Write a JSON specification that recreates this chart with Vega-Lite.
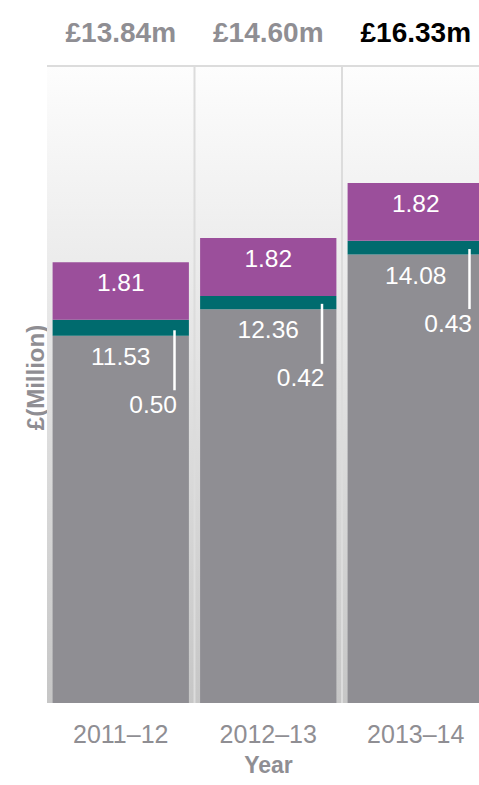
{
  "$schema": "https://vega.github.io/schema/vega-lite/v6.json",
  "width": 432,
  "height": 637,
  "autosize": {"type": "none"},
  "padding": {"left": 47, "top": 66, "right": 0, "bottom": 82},
  "background": "white",
  "config": {"view": {"stroke": null}, "font": "Liberation Sans"},
  "data": {
    "values": [
      {"year": "2011–12", "part": "base", "rank": 1, "value": 11.53},
      {"year": "2011–12", "part": "middle", "rank": 2, "value": 0.50},
      {"year": "2011–12", "part": "top", "rank": 3, "value": 1.81},
      {"year": "2012–13", "part": "base", "rank": 1, "value": 12.36},
      {"year": "2012–13", "part": "middle", "rank": 2, "value": 0.42},
      {"year": "2012–13", "part": "top", "rank": 3, "value": 1.82},
      {"year": "2013–14", "part": "base", "rank": 1, "value": 14.08},
      {"year": "2013–14", "part": "middle", "rank": 2, "value": 0.43},
      {"year": "2013–14", "part": "top", "rank": 3, "value": 1.82}
    ]
  },
  "transform": [
    {"stack": "value", "groupby": ["year"], "sort": [{"field": "rank", "order": "ascending"}], "as": ["v0", "v1"]}
  ],
  "layer": [
    {
      "transform": [{"filter": "datum.part === 'base'"}],
      "mark": {
        "type": "rect",
        "fill": {
          "gradient": "linear", "x1": 0, "y1": 0, "x2": 0, "y2": 1,
          "stops": [
            {"offset": 0, "color": "#fdfdfd"},
            {"offset": 0.3, "color": "#ececec"},
            {"offset": 1, "color": "#c6c6c6"}
          ]
        }
      },
      "encoding": {
        "x": {
          "field": "year",
          "type": "nominal",
          "scale": {"type": "band", "range": [0, 442.5], "paddingInner": 0, "paddingOuter": 0},
          "axis": {
            "title": "Year",
            "labelAngle": 0,
            "labelFontSize": 25,
            "labelColor": "#8f8e93",
            "labelPadding": 19,
            "ticks": false,
            "domain": false,
            "grid": false,
            "titleFontSize": 23,
            "titleFontWeight": "bold",
            "titleColor": "#8f8e93",
            "titleX": 221,
            "titleY": 69,
            "titleBaseline": "alphabetic"
          }
        },
        "y": {"datum": 20, "type": "quantitative", "scale": {"domain": [0, 20], "nice": false}},
        "y2": {"datum": 0}
      }
    },
    {
      "transform": [{"filter": "datum.part === 'base' && datum.year !== '2011–12'"}],
      "mark": {"type": "rule", "color": "#dcdcdc", "strokeWidth": 2},
      "encoding": {
        "x": {"field": "year", "type": "nominal", "bandPosition": 0},
        "y": {"datum": 0, "type": "quantitative", "scale": {"domain": [0, 20], "nice": false}},
        "y2": {"datum": 20}
      }
    },
    {
      "mark": {"type": "bar", "width": {"band": 0.924}},
      "encoding": {
        "x": {"field": "year", "type": "nominal"},
        "y": {
          "field": "v0",
          "type": "quantitative",
          "scale": {"domain": [0, 20], "nice": false},
          "axis": {
            "title": "£(Million)",
            "labels": false,
            "ticks": false,
            "domain": false,
            "grid": false,
            "titleFontSize": 24,
            "titleFontWeight": "bold",
            "titleColor": "#8f8e93",
            "titleX": -11,
            "titleY": 311,
            "titleAngle": 270,
            "titleAlign": "center",
            "titleBaseline": "middle"
          }
        },
        "y2": {"field": "v1"},
        "color": {
          "field": "part",
          "type": "nominal",
          "scale": {"domain": ["base", "middle", "top"], "range": ["#8f8e93", "#006b6e", "#9b4f9b"]},
          "legend": null
        }
      }
    },
    {
      "transform": [{"filter": "datum.part === 'base' || datum.part === 'top'"}],
      "mark": {"type": "text", "color": "white", "fontSize": 24.5, "baseline": "middle", "dy": 22},
      "encoding": {
        "x": {"field": "year", "type": "nominal"},
        "y": {"field": "v1", "type": "quantitative", "scale": {"domain": [0, 20], "nice": false}},
        "text": {"field": "value", "type": "quantitative", "format": ".2f"}
      }
    },
    {
      "transform": [{"filter": "datum.part === 'middle'"}],
      "mark": {"type": "rule", "color": "white", "strokeWidth": 2.5, "xOffset": -20, "yOffset": -5.5, "y2Offset": 54.5},
      "encoding": {
        "x": {"field": "year", "type": "nominal", "bandPosition": 1},
        "y": {"field": "v0", "type": "quantitative", "scale": {"domain": [0, 20], "nice": false}},
        "y2": {"field": "v0"}
      }
    },
    {
      "transform": [{"filter": "datum.part === 'middle'"}],
      "mark": {"type": "text", "color": "white", "fontSize": 24.5, "baseline": "middle", "align": "right", "dx": -17.5, "dy": 70},
      "encoding": {
        "x": {"field": "year", "type": "nominal", "bandPosition": 1},
        "y": {"field": "v0", "type": "quantitative", "scale": {"domain": [0, 20], "nice": false}},
        "text": {"field": "value", "type": "quantitative", "format": ".2f"}
      }
    },
    {
      "transform": [
        {"filter": "datum.part === 'top'"},
        {"calculate": "'£' + format(datum.v1, '.2f') + 'm'", "as": "total_label"}
      ],
      "mark": {"type": "text", "fontSize": 28, "fontWeight": "bold", "baseline": "alphabetic", "dy": -24},
      "encoding": {
        "x": {"field": "year", "type": "nominal"},
        "y": {"datum": 20, "type": "quantitative", "scale": {"domain": [0, 20], "nice": false}},
        "text": {"field": "total_label", "type": "nominal"},
        "color": {"condition": {"test": "datum.year === '2013–14'", "value": "#000000"}, "value": "#8f8e93"}
      }
    },
    {
      "mark": {"type": "rule", "color": "#dcdcdc", "strokeWidth": 2},
      "encoding": {
        "y": {"datum": 20, "type": "quantitative", "scale": {"domain": [0, 20], "nice": false}}
      }
    }
  ]
}
